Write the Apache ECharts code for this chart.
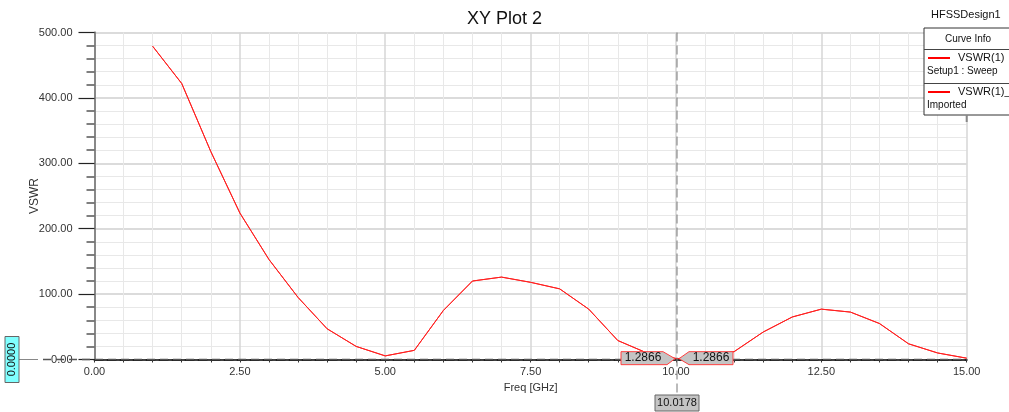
<!DOCTYPE html>
<html>
<head>
<meta charset="utf-8">
<script src="https://cdn.jsdelivr.net/npm/echarts@6/dist/echarts.min.js"></script>
<style>
html,body{margin:0;padding:0;background:#fff;}
#c{width:1009px;height:412px;}
</style>
</head>
<body>
<div id="c"></div>
<script>
// ---- data ----
const freq = [1.0, 1.5, 2.0, 2.5, 3.0, 3.5, 4.0, 4.5, 5.0, 5.5, 6.0, 6.5, 7.0, 7.5, 8.0, 8.5, 9.0, 9.5, 10.0178, 10.5, 11.0, 11.5, 12.0, 12.5, 13.0, 13.5, 14.0, 14.5, 15.0];
const vswr = [479, 422, 318, 224, 153, 95, 47, 20, 5.5, 14, 75, 120, 126, 118, 108, 77, 29, 10, 1.2866, 5, 12, 42, 65, 77, 72.5, 55, 24, 10, 2];
const xTicks = [0, 2.5, 5, 7.5, 10, 12.5, 15];
const yTicks = [0, 100, 200, 300, 400, 500];
const markerX = 10.0178;
const markerY = 1.2866;
const yMarker = 0;
const titleText = 'XY Plot 2';
const designName = 'HFSSDesign1';
const curveNames = ['VSWR(1)', 'VSWR(1)_1'];
const curveSubs = ['Setup1 : Sweep', 'Imported'];

const FONT = 'Liberation Sans, Arial, sans-serif';
const pts = freq.map((f, i) => [f, vswr[i]]);

const chart = echarts.init(document.getElementById('c'), null, {renderer: 'canvas'});

const baseAxisText = {color: '#333', fontFamily: FONT, fontSize: 11};

chart.setOption({
  animation: false,
  backgroundColor: '#fff',
  title: {
    text: titleText, left: 'center', top: 5,
    textStyle: {fontFamily: FONT, fontSize: 18, fontWeight: 'normal', color: '#111'}
  },
  grid: {left: 94.5, right: 42.3, top: 32.5, bottom: 52.5},
  xAxis: [{
    type: 'value', min: xTicks[0], max: xTicks[xTicks.length - 1], interval: 2.5,
    name: 'Freq [GHz]', nameLocation: 'middle', nameGap: 19,
    nameTextStyle: {fontFamily: FONT, fontSize: 11, color: '#333'},
    axisLine: {show: true, onZero: false, lineStyle: {color: '#555', width: 2, type: [8, 5]}},
    axisTick: {show: true, length: 3, lineStyle: {color: '#333'}},
    minorTick: {show: true, splitNumber: 5, length: 3, lineStyle: {color: '#333'}},
    axisLabel: Object.assign({margin: 7, formatter: v => v.toFixed(2)}, baseAxisText),
    splitLine: {show: true, lineStyle: {color: '#d6d6d6', width: 1.5}},
    minorSplitLine: {show: true, lineStyle: {color: '#e8e8e8', width: 1}}
  }, {
    type: 'value', position: 'top', min: 0, max: 15,
    axisLine: {show: true, lineStyle: {color: '#111', width: 1.5}},
    axisTick: {show: false}, axisLabel: {show: false}, splitLine: {show: false}
  }],
  yAxis: [{
    type: 'value', min: yTicks[0], max: yTicks[yTicks.length - 1], interval: 100,
    name: 'VSWR', nameLocation: 'middle', nameGap: 54, nameRotate: 90, nameMoveOverlap: false,
    nameTextStyle: {fontFamily: FONT, fontSize: 12, color: '#333'},
    axisLine: {show: true, onZero: false, lineStyle: {color: '#111', width: 1.5}},
    axisTick: {show: true, length: 16, lineStyle: {color: '#222', width: 1.2}},
    minorTick: {show: true, splitNumber: 5, length: 8, lineStyle: {color: '#555', width: 1.5}},
    axisLabel: Object.assign({margin: 22, formatter: v => v.toFixed(2)}, baseAxisText),
    splitLine: {show: true, lineStyle: {color: '#cfcfcf', width: 1.5}},
    minorSplitLine: {show: true, lineStyle: {color: '#e8e8e8', width: 1}}
  }, {
    type: 'value', position: 'right', min: 0, max: 500,
    axisLine: {show: true, lineStyle: {color: '#888', width: 2}},
    axisTick: {show: false}, axisLabel: {show: false}, splitLine: {show: false}
  }],
  series: [{
    name: curveNames[0], type: 'line', data: pts, showSymbol: false,
    lineStyle: {color: '#ff2020', width: 1}, z: 5
  }, {
    name: curveNames[1], type: 'line', data: pts, showSymbol: false,
    lineStyle: {color: '#ff2020', width: 1}, z: 4
  }]
});

// ---- overlays positioned via the chart's own scales ----
const p = chart.convertToPixel({xAxisIndex: 0, yAxisIndex: 0}, [markerX, markerY]);
const y0 = chart.convertToPixel({yAxisIndex: 0}, yMarker);
const xTop = chart.convertToPixel({yAxisIndex: 0}, 500);
const xRight = chart.convertToPixel({xAxisIndex: 0}, 15);
const px = p[0], py = p[1];

const txt = (x, y, s, opt) => Object.assign({
  type: 'text', x: x, y: y,
  style: Object.assign({text: s, fill: '#111', font: '11px ' + FONT}, opt || {}),
  z: 100
});

const g = [];
// horizontal Y-marker line at 0 (dashed, extends into label area)
g.push({type: 'line', shape: {x1: 43, y1: y0, x2: xRight, y2: y0}, style: {stroke: '#555', lineWidth: 1.5, lineDash: [8, 5]}, z: 60});
g.push({type: 'line', shape: {x1: 19, y1: y0, x2: 38, y2: y0}, style: {stroke: '#888', lineWidth: 1}, z: 60});
// cyan marker label
g.push({type: 'rect', shape: {x: 5, y: y0 - 23, width: 14, height: 46}, style: {fill: '#80ffff', stroke: '#666', lineWidth: 1}, z: 90});
const cy = txt(12, y0, yMarker.toFixed(4), {align: 'center', verticalAlign: 'middle', font: '11px ' + FONT});
cy.rotation = Math.PI / 2;
g.push(cy);
// vertical x-marker line
g.push({type: 'line', shape: {x1: px, y1: xTop, x2: px, y2: 395}, style: {stroke: '#777', lineWidth: 1, lineDash: [9, 4]}, z: 60});
// x-marker label at bottom
g.push({type: 'rect', shape: {x: px - 22, y: 395, width: 44, height: 16}, style: {fill: '#c4c4c4', stroke: '#666', lineWidth: 1}, z: 90});
g.push(txt(px, 403, markerX.toFixed(4), {align: 'center', verticalAlign: 'middle', font: '11px ' + FONT}));
// point marker labels (left and right)
g.push({type: 'polygon', shape: {points: [[px - 56, py - 7], [px - 14, py - 7], [px - 2, py], [px - 10, py + 6], [px - 56, py + 6]]},
  style: {fill: '#c4c4c4', stroke: '#ff4040', lineWidth: 1}, z: 90});
g.push(txt(px - 34, py - 0.5, markerY.toFixed(4), {align: 'center', verticalAlign: 'middle', font: '12px ' + FONT}));
g.push({type: 'polygon', shape: {points: [[px + 56, py - 7], [px + 12, py - 7], [px + 2, py], [px + 12, py + 6], [px + 56, py + 6]]},
  style: {fill: '#c4c4c4', stroke: '#ff4040', lineWidth: 1}, z: 90});
g.push(txt(px + 34, py - 0.5, markerY.toFixed(4), {align: 'center', verticalAlign: 'middle', font: '12px ' + FONT}));

// design name + curve info legend
g.push(txt(931, 15, designName, {verticalAlign: 'middle', font: '11px ' + FONT}));
g.push({type: 'rect', shape: {x: 924, y: 28, width: 100, height: 87}, style: {fill: '#fff', stroke: '#333', lineWidth: 1}, z: 95});
g.push(txt(968, 39, 'Curve Info', {align: 'center', verticalAlign: 'middle', font: '10px ' + FONT}));
g.push({type: 'line', shape: {x1: 924, y1: 49.5, x2: 1009, y2: 49.5}, style: {stroke: '#444', lineWidth: 1}, z: 96});
g.push({type: 'line', shape: {x1: 924, y1: 83.5, x2: 1009, y2: 83.5}, style: {stroke: '#444', lineWidth: 1}, z: 96});
[0, 1].forEach(i => {
  const yy = 58 + i * 34;
  g.push({type: 'line', shape: {x1: 928, y1: yy, x2: 950, y2: yy}, style: {stroke: '#ff0000', lineWidth: 2}, z: 96});
  g.push(txt(958, yy, curveNames[i], {verticalAlign: 'middle', font: '11px ' + FONT}));
  g.push(txt(927, yy + 13, curveSubs[i], {verticalAlign: 'middle', font: '10px ' + FONT}));
});
g.push({type: 'line', shape: {x1: xRight, y1: 115, x2: xRight, y2: 122}, style: {stroke: '#888', lineWidth: 2}, z: 96});

chart.setOption({graphic: {elements: g}});
</script>
</body>
</html>
